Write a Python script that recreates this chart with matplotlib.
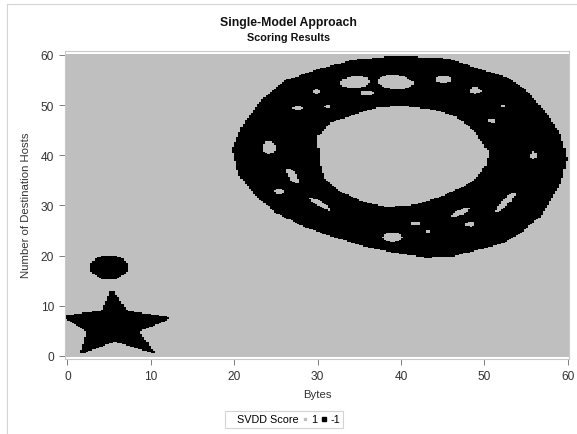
import numpy as np
import matplotlib
matplotlib.use("Agg")
import matplotlib.pyplot as plt
from matplotlib.path import Path
from matplotlib.lines import Line2D

plt.rcParams['font.family'] = ['Liberation Sans', 'DejaVu Sans']

# ---- data ----
grid_step = 0.25
x_min, x_max = 0.0, 60.0
y_min, y_max = 0.0, 60.0

ring_outer_x = [19.9, 21.1, 23.5, 26.3, 30.3, 34.3, 39.5, 45.5, 48.7, 52.7, 55.1, 57.5, 59.1, 59.8,
                59.1, 57.9, 56.7, 54.3, 52.3, 48.7, 46.3, 43.1, 39.1, 35.5, 31.5, 28.3, 25.1, 22.7, 20.7]
ring_outer_y = [41.3, 45.9, 51.2, 54.9, 57.2, 58.9, 59.7, 59.2, 57.5, 55.5, 52.6, 47.9, 43.9, 39.3,
                34.6, 31.3, 28.0, 24.7, 22.7, 21.0, 20.0, 19.7, 20.7, 22.0, 24.0, 26.0, 28.6, 32.0, 35.9]
ring_inner_x = [29.9, 31.5, 34.3, 37.1, 40.3, 43.9, 46.7, 48.7, 49.9, 50.7, 50.3, 49.1, 47.1, 44.3,
                41.5, 38.3, 35.5, 32.7, 30.7, 30.1]
ring_inner_y = [43.9, 46.6, 48.2, 49.6, 49.9, 49.2, 47.9, 45.2, 42.6, 40.6, 37.9, 35.3, 33.3, 31.3,
                30.0, 29.6, 30.6, 32.6, 35.3, 38.6]

hole_x = [34.5, 39.3, 45.1, 48.9, 35.9, 29.9, 27.6, 31.2, 24.2, 27.0, 25.4, 30.3, 39.0, 41.8, 43.3,
          47.1, 48.3, 52.5, 55.9, 50.9, 52.3]
hole_y = [54.6, 54.6, 55.2, 52.9, 52.4, 52.7, 49.4, 49.8, 41.6, 35.9, 32.8, 30.3, 23.7, 26.5, 24.7,
          28.6, 26.3, 30.6, 39.9, 46.9, 49.9]
hole_a = [1.9, 2.3, 1.1, 0.9, 0.9, 0.5, 0.7, 0.5, 0.9, 1.8, 0.7, 1.9, 1.3, 0.7, 0.4,
          1.6, 0.7, 2.4, 0.5, 0.5, 0.4]
hole_b = [1.3, 1.5, 0.8, 0.7, 0.6, 0.6, 0.6, 0.45, 1.4, 0.6, 0.7, 0.6, 1.0, 0.45, 0.5,
          0.55, 0.6, 0.6, 0.9, 0.6, 0.4]
hole_angle = [10, -10, 0, 0, 0, 0, 0, 0, 0, -70, 0, -45, 0, 0, 0,
              40, 0, 60, 0, 0, 0]

star_x = [5.4, 6.8, 11.8, 8.2, 9.8, 5.7, 2.0, 2.8, 0.0, 4.4]
star_y = [12.4, 8.8, 7.5, 5.0, 1.2, 3.3, 1.0, 5.0, 7.8, 8.8]

blob_center = (5.0, 17.65)
blob_radii = (2.1, 2.35)

score_labels = ['1', '-1']
score_colors = ['#BFBFBF', '#000000']

# ---- build the scored grid ----
gx, gy = np.meshgrid(np.arange(x_min, x_max + 1e-9, grid_step),
                     np.arange(y_min, y_max + 1e-9, grid_step))
gx = gx.ravel(); gy = gy.ravel()
pts = np.column_stack([gx, gy])

outer = Path(np.column_stack([ring_outer_x, ring_outer_y]), closed=False).contains_points(pts)
inner = Path(np.column_stack([ring_inner_x, ring_inner_y]), closed=False).contains_points(pts)
ring = outer & ~inner
for hx, hy, ha, hb, ang in zip(hole_x, hole_y, hole_a, hole_b, hole_angle):
    t = np.deg2rad(ang)
    dx, dy = gx - hx, gy - hy
    u = dx * np.cos(t) + dy * np.sin(t)
    v = -dx * np.sin(t) + dy * np.cos(t)
    ring &= ~((u / ha) ** 2 + (v / hb) ** 2 <= 1)
star = Path(np.column_stack([star_x, star_y]), closed=False).contains_points(pts, radius=-0.5)
blob = ((gx - blob_center[0]) / blob_radii[0]) ** 2 + ((gy - blob_center[1]) / blob_radii[1]) ** 2 <= 1
anomaly = ring | star | blob

# ---- figure ----
fig = plt.figure(figsize=(5.77, 4.35), dpi=100)
ax = fig.add_axes([65 / 577, 1 - 359.5 / 435, (569 - 65) / 577, (359.5 - 51.7) / 435])

cell = [(-1, -0.6), (1, -0.6), (1, 0.6), (-1, 0.6), (-1, -0.6)]
ax.scatter(gx[~anomaly], gy[~anomaly], marker=cell, s=5.2, c=score_colors[0], linewidths=0, rasterized=True)
ax.scatter(gx[anomaly], gy[anomaly], marker=cell, s=5.2, c=score_colors[1], linewidths=0, rasterized=True)

ax.set_xlim(-0.28, 60.15)
ax.set_ylim(-0.5, 60.85)
ax.set_xticks([0, 10, 20, 30, 40, 50, 60])
ax.set_yticks([0, 10, 20, 30, 40, 50, 60])
for sp in ax.spines.values():
    sp.set_color('#C8C8C8')
    sp.set_linewidth(0.8)
ax.tick_params(direction='out', length=4, width=0.7, color='#7F7F7F', labelsize=8.6,
               labelcolor='#333333', pad=4)
ax.set_xlabel('Bytes', fontsize=8.2, color='#333333', labelpad=5)
ax.set_ylabel('Number of Destination Hosts', fontsize=8.2, color='#333333', labelpad=7)

fig.text(0.5, 1 - 23 / 435, 'Single-Model Approach', ha='center', va='center',
         fontsize=8.8, fontweight='bold', color='#111111')
fig.text(0.5, 1 - 38 / 435, 'Scoring Results', ha='center', va='center',
         fontsize=7.8, fontweight='bold', color='#111111')

handles = [Line2D([], [], linestyle='none', marker=None),
           Line2D([], [], linestyle='none', marker='s', markersize=1.8, color=score_colors[0]),
           Line2D([], [], linestyle='none', marker='s', markersize=2.4, color=score_colors[1])]
leg = fig.legend(handles, ['SVDD Score'] + score_labels, ncol=3, loc='center',
                 bbox_to_anchor=(284 / 577, 1 - 420.5 / 435), fontsize=7.8,
                 frameon=True, fancybox=False, edgecolor='#C8C8C8', handlelength=0.4,
                 handletextpad=0.4, columnspacing=0.4, borderpad=0.3, borderaxespad=0)
leg.get_frame().set_linewidth(0.8)

fig.add_artist(Line2D([7 / 577, 7 / 577], [0, 1 - 5 / 435], transform=fig.transFigure,
                      color='#D4D4D4', linewidth=0.8))
fig.add_artist(Line2D([7 / 577, 1], [1 - 5 / 435, 1 - 5 / 435], transform=fig.transFigure,
                      color='#D4D4D4', linewidth=0.8))

fig.savefig('out.png', dpi=100)
